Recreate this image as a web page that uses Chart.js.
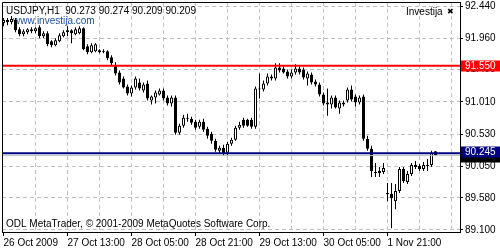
<!DOCTYPE html>
<html>
<head>
<meta charset="utf-8">
<script src="https://cdn.jsdelivr.net/npm/chart.js@4.4.1/dist/chart.umd.min.js"></script>
<style>
  html, body { margin: 0; padding: 0; background: #fff; }
  #wrap { width: 500px; height: 250px; }
</style>
</head>
<body>
<div id="wrap"><canvas id="fxChart" width="500" height="250"></canvas></div>
<script>
// USDJPY H1 candles
const opens = [
  92.185, 92.23, 92.2, 92.23, 92.095, 92.02, 92.05, 92.095, 92.065, 92.125,
  91.99, 92.035, 91.915, 91.855, 91.915, 91.99, 92.05, 92.08, 92.02, 92.035,
  92.11, 91.84, 91.75, 91.765, 91.78, 91.75, 91.765, 91.675, 91.54, 91.45,
  91.36, 91.24, 91.135, 91.225, 91.3, 91.18, 91.285, 91.03, 91.075, 91.12,
  91.18, 91.075, 90.985, 91.075, 90.55, 90.655, 90.775, 90.76, 90.715, 90.64,
  90.715, 90.61, 90.535, 90.43, 90.28, 90.325, 90.25, 90.385, 90.445, 90.625,
  90.745, 90.745, 90.745, 90.64, 91.21, 91.195, 91.285, 91.39, 91.36, 91.525,
  91.51, 91.465, 91.39, 91.45, 91.51, 91.495, 91.36, 91.42, 91.315, 91.27,
  91.12, 91.0, 90.97, 91.075, 90.91, 91.0, 91.03, 91.195, 91.09, 91.0,
  91.09, 90.46, 90.31, 89.965, 89.95, 89.965, 89.65, 89.635, 89.53, 89.68,
  90.01, 89.815, 89.935, 90.07, 90.055, 90.01, 90.055, 90.07, 90.273
];
const highs = [
  92.26, 92.26, 92.29, 92.26, 92.125, 92.095, 92.11, 92.125, 92.125, 92.155,
  92.065, 92.065, 91.93, 91.96, 92.035, 92.08, 92.14, 92.095, 92.125, 92.14,
  92.125, 91.87, 91.885, 91.885, 91.795, 91.795, 91.78, 91.705, 91.6, 91.48,
  91.39, 91.27, 91.255, 91.39, 91.36, 91.3, 91.33, 91.105, 91.18, 91.21,
  91.21, 91.105, 91.105, 91.105, 90.685, 90.82, 90.835, 90.79, 90.745, 90.745,
  90.76, 90.64, 90.565, 90.46, 90.355, 90.37, 90.415, 90.475, 90.655, 90.715,
  90.775, 90.76, 90.775, 91.24, 91.435, 91.33, 91.435, 91.42, 91.585, 91.585,
  91.54, 91.495, 91.495, 91.57, 91.54, 91.525, 91.465, 91.45, 91.345, 91.3,
  91.15, 91.21, 91.105, 91.105, 91.03, 91.03, 91.225, 91.255, 91.12, 91.105,
  91.12, 90.505, 90.355, 90.1, 90.04, 90.1, 89.8, 89.8, 89.785, 90.04,
  90.04, 89.98, 90.1, 90.13, 90.085, 90.115, 90.16, 90.28, 90.274
];
const lows = [
  92.14, 92.155, 92.17, 92.05, 91.99, 91.99, 92.02, 92.035, 92.035, 91.96,
  91.96, 91.84, 91.825, 91.84, 91.9, 91.975, 91.99, 91.885, 92.005, 92.02,
  91.78, 91.72, 91.735, 91.75, 91.735, 91.735, 91.63, 91.555, 91.405, 91.27,
  91.21, 91.105, 91.09, 91.195, 91.18, 91.15, 91.03, 90.97, 90.985, 91.105,
  91.03, 90.955, 90.94, 90.52, 90.52, 90.625, 90.715, 90.67, 90.595, 90.61,
  90.565, 90.46, 90.385, 90.265, 90.235, 90.205, 90.22, 90.355, 90.43, 90.595,
  90.625, 90.64, 90.61, 90.61, 91.06, 91.165, 91.255, 91.33, 91.33, 91.45,
  91.435, 91.36, 91.36, 91.42, 91.42, 91.345, 91.255, 91.27, 91.24, 91.09,
  90.955, 90.805, 90.91, 90.91, 90.835, 90.94, 91.0, 91.015, 90.94, 90.97,
  90.43, 90.28, 89.89, 89.89, 89.89, 89.935, 89.53, 89.125, 89.41, 89.65,
  89.8, 89.785, 89.905, 90.01, 89.98, 89.98, 89.98, 90.04, 90.209
];
const closes = [
  92.23, 92.2, 92.245, 92.08, 92.02, 92.065, 92.095, 92.065, 92.11, 91.99,
  92.035, 91.87, 91.855, 91.93, 92.005, 92.05, 92.08, 92.035, 92.095, 92.11,
  91.795, 91.75, 91.855, 91.87, 91.75, 91.765, 91.66, 91.585, 91.435, 91.3,
  91.225, 91.135, 91.225, 91.36, 91.21, 91.27, 91.06, 91.09, 91.15, 91.18,
  91.06, 90.985, 91.075, 90.55, 90.655, 90.775, 90.76, 90.7, 90.625, 90.715,
  90.595, 90.505, 90.43, 90.295, 90.325, 90.235, 90.385, 90.445, 90.625, 90.67,
  90.655, 90.655, 90.64, 91.21, 91.195, 91.285, 91.39, 91.36, 91.525, 91.48,
  91.45, 91.39, 91.45, 91.51, 91.45, 91.375, 91.435, 91.3, 91.27, 91.12,
  90.985, 90.97, 91.075, 90.925, 91.0, 90.97, 91.195, 91.045, 91.0, 91.075,
  90.46, 90.31, 89.98, 89.95, 89.98, 90.025, 89.635, 89.575, 89.68, 90.01,
  89.83, 89.935, 90.07, 90.04, 90.01, 90.07, 90.07, 90.25, 90.209
];

// time axis: dashed grid every 8 bars, a date label every 16
const gridBars = [0, 8, 16, 24, 32, 40, 48, 56, 64, 72, 80, 88, 96, 104, 112];
const labelBars = [0, 16, 32, 48, 64, 80, 96];
const labelTexts = ['26 Oct 2009', '27 Oct 13:00', '28 Oct 05:00', '28 Oct 21:00',
                    '29 Oct 13:00', '30 Oct 05:00', '1 Nov 21:00'];
// price axis
const priceTicks = [92.44, 91.96, 91.49, 91.01, 90.53, 90.05, 89.58, 89.10];

// horizontal levels
const resistance = 91.55;
const support = 90.245;
const bidPrice = 90.209;

const titleText = 'USDJPY,H1  90.273 90.274 90.209 90.209';
const siteText = 'www.investija.com';
const copyText = 'ODL MetaTrader, \u00A9 2001-2009 MetaQuotes Software Corp.';
const brandText = 'Investija';

const FONT_FAMILY = '"Liberation Sans", Arial, sans-serif';
const FONT = '10px ' + FONT_FAMILY;

Chart.defaults.font.family = FONT_FAMILY;
Chart.defaults.font.size = 10;
Chart.defaults.color = '#000';

// 価格ラベル（右側の色付きボックス）
function priceBox(ctx, y, bg, text) {
  ctx.fillStyle = bg;
  ctx.fillRect(461, Math.round(y) - 5.5, 39, 11);
  if (text) {
    ctx.fillStyle = '#fff';
    ctx.textAlign = 'left';
    ctx.textBaseline = 'middle';
    ctx.fillText(text, 465, Math.round(y) + 0.5);
  }
}

const mtOverlay = {
  id: 'mtOverlay',
  beforeDatasetsDraw(chart) {
    const { ctx } = chart;
    ctx.save();
    ctx.font = FONT;
    ctx.textBaseline = 'middle';
    ctx.textAlign = 'left';
    ctx.fillStyle = '#000';
    ctx.fillText(titleText, 6, 11);
    ctx.fillStyle = '#1e4d9b';
    ctx.fillText(siteText, 13, 21);
    ctx.fillStyle = '#000';
    ctx.fillText(copyText, 6, 224);
    ctx.fillText(brandText, 406, 12);
    ctx.font = 'bold 8px "DejaVu Sans", sans-serif';
    ctx.fillText('\u2716', 447, 12);
    ctx.restore();
  },
  afterDatasetsDraw(chart) {
    const { ctx, chartArea: a, scales: { y } } = chart;
    ctx.save();
    const hLine = (v, color, w) => {
      const py = y.getPixelForValue(v);
      ctx.strokeStyle = color;
      ctx.lineWidth = w;
      ctx.beginPath();
      ctx.moveTo(a.left, py);
      ctx.lineTo(a.right, py);
      ctx.stroke();
      return py;
    };
    const bidY = hLine(bidPrice, '#c0c0c0', 1);
    const supY = hLine(support, '#000080', 2);
    const resY = hLine(resistance, '#ff0000', 2);

    // frame (left / top)
    ctx.strokeStyle = '#000';
    ctx.lineWidth = 1;
    ctx.beginPath();
    ctx.moveTo(a.left + 0.5, a.bottom);
    ctx.lineTo(a.left + 0.5, a.top + 0.5);
    ctx.lineTo(a.right, a.top + 0.5);
    ctx.stroke();

    ctx.font = FONT;
    priceBox(ctx, resY, '#ff0000', resistance.toFixed(3));
    priceBox(ctx, bidY + 1, '#000', '');
    priceBox(ctx, supY - 1, '#000080', support.toFixed(3));
    ctx.restore();
  }
};

const ctx = document.getElementById('fxChart').getContext('2d');

new Chart(ctx, {
  type: 'bar',
  data: {
    datasets: [
      {
        label: 'wick',
        data: opens.map((o, i) => ({ x: i, y: [lows[i], highs[i]] })),
        backgroundColor: '#000',
        barThickness: 1,
        grouped: false,
        inflateAmount: 0,
        minBarLength: 1,
        order: 2
      },
      {
        label: 'body',
        data: opens.map((o, i) => ({ x: i, y: [o, closes[i]] })),
        backgroundColor: opens.map((o, i) => (closes[i] >= o ? '#fff' : '#000')),
        borderColor: '#000',
        borderWidth: 1,
        borderSkipped: false,
        barThickness: 3,
        grouped: false,
        inflateAmount: 0,
        minBarLength: 1,
        order: 1
      }
    ]
  },
  options: {
    responsive: false,
    animation: false,
    events: [],
    layout: { padding: { top: 2, left: 2, right: 0, bottom: 0 } },
    plugins: {
      legend: { display: false },
      tooltip: { enabled: false }
    },
    scales: {
      x: {
        type: 'linear',
        min: -0.375,
        max: 114.125,
        offset: false,
        bounds: 'data',
        afterBuildTicks: (s) => { s.ticks = gridBars.map(v => ({ value: v })); },
        afterFit: (s) => {
          s.height = 18;
          s.paddingLeft = 0; s.paddingRight = 0;
        },
        grid: {
          offset: false,
          color: (c) => (c.tick && c.tick.value === 0 ? 'rgba(0,0,0,0)' : '#c0c0c0'),
          tickColor: (c) => (c.tick && labelBars.includes(c.tick.value) ? '#000' : 'rgba(0,0,0,0)'),
          tickLength: 4,
          lineWidth: 1
        },
        border: { display: true, color: '#000', width: 1, dash: [4, 3] },
        ticks: {
          autoSkip: false,
          maxRotation: 0,
          align: 'start',
          padding: 1,
          color: '#000',
          font: { size: 10 },
          callback: (v) => {
            const k = labelBars.indexOf(v);
            return k >= 0 ? labelTexts[k] : '';
          }
        }
      },
      y: {
        type: 'linear',
        position: 'right',
        min: 89.07,
        max: 92.50,
        bounds: 'data',
        beginAtZero: false,
        afterBuildTicks: (s) => { s.ticks = priceTicks.map(v => ({ value: v })); },
        afterFit: (s) => {
          s.width = 40;
          s.paddingTop = 0; s.paddingBottom = 0;
        },
        grid: {
          color: '#c0c0c0',
          tickColor: '#000',
          tickLength: 3,
          lineWidth: 1
        },
        border: { display: true, color: '#000', width: 1, dash: [4, 3] },
        ticks: {
          padding: 2,
          color: '#000',
          font: { size: 10 },
          callback: (v) => Number(v).toFixed(3)
        }
      }
    }
  },
  plugins: [mtOverlay]
});
</script>
</body>
</html>
